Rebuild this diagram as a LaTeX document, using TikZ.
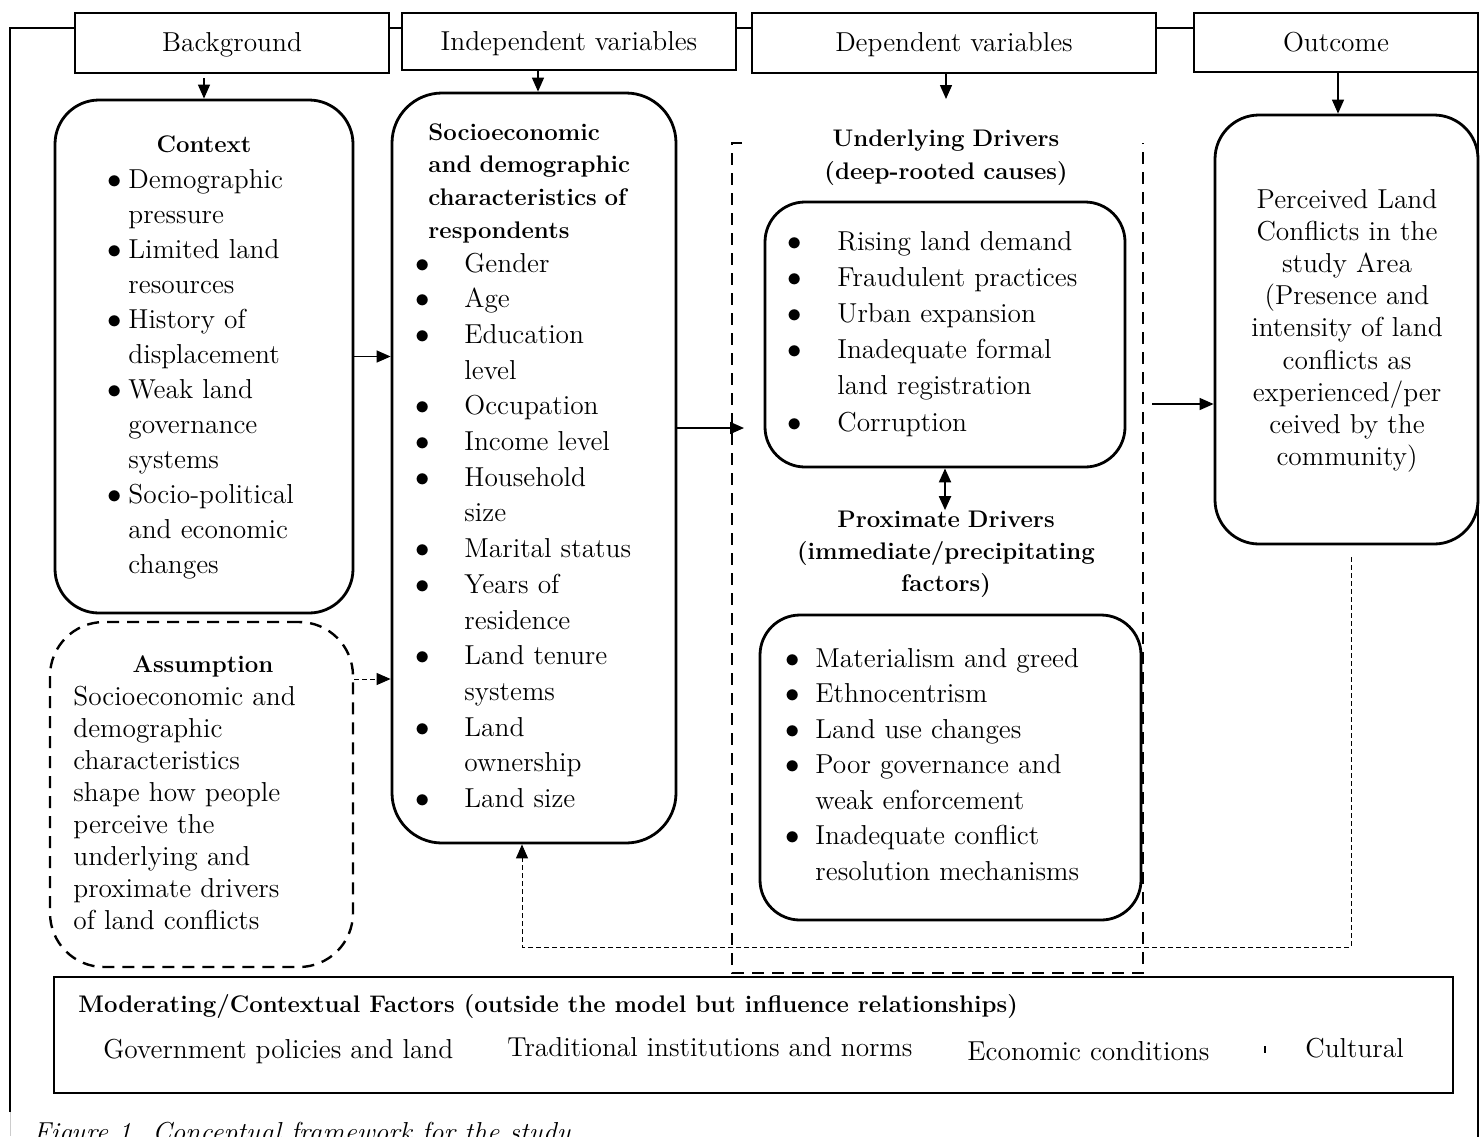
\documentclass[tikz,border=0pt]{standalone}
\usepackage{fontspec}
\usetikzlibrary{arrows.meta,calc}
\newcommand\fsz[1]{\fontsize{13.7pt}{#1}\selectfont}
\newcommand\fbz[1]{\fontsize{12pt}{#1}\selectfont\bfseries}
\begin{document}
\begin{tikzpicture}[x=0.5pt,y=-0.5pt,
  hdr/.style={draw, line width=1.2pt, fill=white, inner sep=0, text height=11pt, text depth=2.5pt, font=\fsz{16pt}},
  rbox/.style={draw, line width=1.4pt, fill=white, rounded corners=22pt, inner sep=0},
  lst/.style={inner sep=0, anchor=base west, align=left, text width=180pt},
  bul/.style={inner sep=0, anchor=base, align=center, text width=10pt},
  ctr/.style={inner sep=0, anchor=base, align=center, text width=200pt},
  ttl/.style={inner sep=0, anchor=base},
  arrw/.style={line width=0.7pt, -{Triangle[length=7pt,width=6pt]}},
  dbl/.style={line width=1pt, {Triangle[length=7pt,width=6pt]}-{Triangle[length=7pt,width=6pt]}},
  bigdash/.style={line width=1.2pt, dash pattern=on 6pt off 4pt},
  fb/.style={line width=0.5pt, dash pattern=on 2.5pt off 1.5pt}
]
\useasboundingbox (0,0) rectangle (1481,1136);
\clip (0,0) rectangle (1481,1136);

% outer frame
\draw[line width=1.2pt] (10,1112) -- (10,28) -- (1478,28) -- (1478,1140);
\draw[gray!40, line width=0.4pt] (10,1112) -- (10,1136);

% header boxes
\node[hdr, minimum width=157pt, minimum height=30pt] (bgH) at (232,43) {Background};
\node[hdr, minimum width=167pt, minimum height=28.5pt] (ivH) at (569,41.5) {Independent variables};
\node[hdr, minimum width=202pt, minimum height=30pt] (dvH) at (954,43) {Dependent variables};
\node[hdr, minimum width=142pt, minimum height=29.5pt] (ocH) at (1336,42.5) {Outcome};

% main boxes
\node[rbox, minimum width=149pt, minimum height=256.5pt] (ctx) at (204,356.5) {};
\node[rbox, rounded corners=25pt, minimum width=142pt, minimum height=375pt] (soc) at (534,468) {};
\node[rbox, bigdash, rounded corners=27pt, minimum width=151.5pt, minimum height=172.5pt] (asm) at (201.5,794.5) {};
\node[rbox, rounded corners=20pt, minimum width=180pt, minimum height=132.5pt] (und) at (945,334.5) {};
\node[rbox, rounded corners=20pt, minimum width=190.5pt, minimum height=152.5pt] (prx) at (950.5,767.5) {};
\node[rbox, rounded corners=22pt, minimum width=131.5pt, minimum height=214.5pt] (per) at (1346.5,329.5) {};
\node[draw, line width=1.4pt, inner sep=0, minimum width=699.5pt, minimum height=58pt] (bot) at (753.5,1035) {};

% dashed container of dependent variables
\draw[bigdash] (742,143) -- (732,143) -- (732,973) -- (1143,973) -- (1143,143);

% Context
\node[ttl, font=\fbz{16pt}] (ctxT) at (204,152) {Context};
\node[bul, font=\fsz{17.5pt}] (ctxB) at (115,188) {$\bullet$\\\mbox{}\\$\bullet$\\\mbox{}\\$\bullet$\\\mbox{}\\$\bullet$\\\mbox{}\\\mbox{}\\$\bullet$};
\node[lst, font=\fsz{17.5pt}] (ctxL) at (128,188) {Demographic\\pressure\\Limited land\\resources\\History of\\displacement\\Weak land\\governance\\systems\\Socio-political\\and economic\\changes};

% Socioeconomic
\node[lst, font=\fbz{16.4pt}] (socT) at (428,140) {Socioeconomic\\and demographic\\characteristics of\\respondents};
\node[bul, font=\fsz{17.85pt}] (socB) at (423,272) {$\bullet$\\$\bullet$\\$\bullet$\\\mbox{}\\$\bullet$\\$\bullet$\\$\bullet$\\\mbox{}\\$\bullet$\\$\bullet$\\\mbox{}\\$\bullet$\\\mbox{}\\$\bullet$\\\mbox{}\\$\bullet$};
\node[lst, font=\fsz{17.85pt}] (socL) at (464,272) {Gender\\Age\\Education\\level\\Occupation\\Income level\\Household\\size\\Marital status\\Years of\\residence\\Land tenure\\systems\\Land\\ownership\\Land size};

% Assumption
\node[ttl, font=\fbz{16pt}] (asmT) at (203,672) {Assumption};
\node[lst, font=\fsz{16pt}] (asmL) at (73,705) {Socioeconomic and\\demographic\\characteristics\\shape how people\\perceive the\\underlying and\\proximate drivers\\of land conflicts};

% Underlying drivers
\node[ctr, font=\fbz{16.5pt}] (undT) at (946,146) {Underlying Drivers\\(deep-rooted causes)};
\node[bul, font=\fsz{18.1pt}] (undB) at (795,250) {$\bullet$\\$\bullet$\\$\bullet$\\$\bullet$\\\mbox{}\\$\bullet$};
\node[lst, font=\fsz{18.1pt}] (undL) at (837,250) {Rising land demand\\Fraudulent practices\\Urban expansion\\Inadequate formal\\land registration\\Corruption};

% Proximate drivers
\node[ctr, font=\fbz{16pt}] (prxT) at (946,527) {Proximate Drivers\\(immediate/precipitating\\factors)};
\node[bul, font=\fsz{17.75pt}] (prxB) at (793,667) {$\bullet$\\$\bullet$\\$\bullet$\\$\bullet$\\\mbox{}\\$\bullet$};
\node[lst, font=\fsz{17.75pt}] (prxL) at (815,667) {Materialism and greed\\Ethnocentrism\\Land use changes\\Poor governance and\\weak enforcement\\Inadequate conflict\\resolution mechanisms};

% Perceived
\node[ctr, font=\fsz{16.1pt}] (perL) at (1347,208) {Perceived Land\\Conflicts in the\\study Area\\(Presence and\\intensity of land\\conflicts as\\experienced/per\\ceived by the\\community)};

% Moderating factors
\node[inner sep=0, anchor=base west, font=\fbz{16pt}] (botT) at (78,1012) {Moderating/Contextual Factors (outside the model but influence relationships)};
\node[inner sep=0, anchor=base west, font=\fsz{16pt}] (bot1) at (103,1058) {Government policies and land};
\node[inner sep=0, anchor=base west, font=\fsz{16pt}] (bot2) at (507,1056) {Traditional institutions and norms};
\node[inner sep=0, anchor=base west, font=\fsz{16pt}] (bot3) at (967,1060) {Economic conditions};
\node[inner sep=0, anchor=base west, font=\fsz{16pt}] (bot4) at (1305,1057) {Cultural};
\draw[line width=0.8pt] (1265,1046) -- (1265,1053);

% caption (cut by page edge)
\node[inner sep=0, anchor=base west, font=\fsz{16pt}\itshape] (cap) at (33,1141) {Figure 1. Conceptual framework for the study};

% connectors
\coordinate (dvEnd) at (946,99);
\coordinate (aY) at (0,679);
\coordinate (contL) at (744,428);
\coordinate (contR) at (1152,404);
\coordinate (fbS) at (1351,557);
\coordinate (fbE) at (522,947);

\draw[arrw] (bgH.south -| ctx.north) ++(0,4) -- (ctx.north);
\draw[arrw] (ivH.south -| 538,0) -- (soc.north -| 538,0);
\draw[arrw] (dvH.south -| dvEnd) -- (dvEnd);
\draw[arrw] (ocH.south -| 1338,0) -- (per.north -| 1338,0);
\draw[arrw] (ctx.east) -- (ctx.east -| soc.west);
\draw[arrw, fb] (asm.east |- aY) -- (soc.west |- aY);
\draw[arrw] (soc.east |- contL) -- (contL);
\draw[arrw] (contR) -- (contR -| per.west);
\draw[dbl] (und.south) -- (und.south |- prxT.north);
\draw[fb, -{Triangle[length=7pt,width=6pt]}] (fbS) |- (fbE) -- (fbE |- soc.south);
\end{tikzpicture}
\end{document}
